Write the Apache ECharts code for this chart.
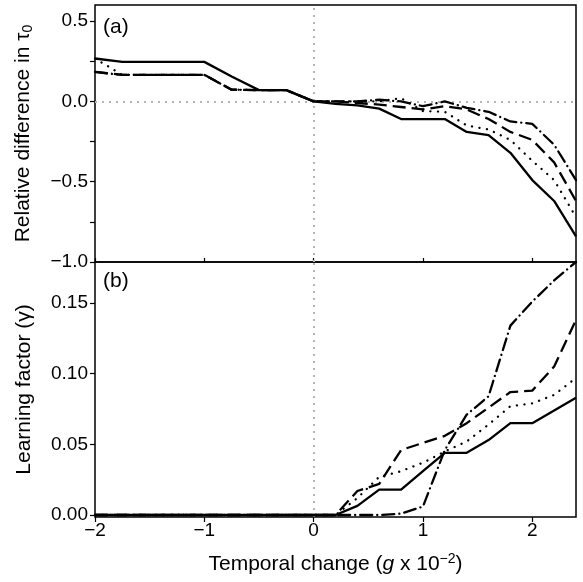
<!DOCTYPE html>
<html>
<head>
<meta charset="utf-8">
<script src="https://cdn.jsdelivr.net/npm/echarts@6/dist/echarts.min.js"></script>
<style>
html,body{margin:0;padding:0;background:#fff;}
#chart{width:583px;height:582px;}
</style>
</head>
<body>
<div id="chart"></div>
<script>
// x positions (g x 10^-2)
var xNeg = [-2, -1.75, -1.5, -1.25, -1, -0.75, -0.5, -0.25];
var xPos = [0, 0.2, 0.4, 0.6, 0.8, 1.0, 1.2, 1.4, 1.6, 1.8, 2.0, 2.2, 2.4];
var xVals = xNeg.concat(xPos);

// panel (a): relative difference in tau0
var tauSolid   = [0.267, 0.246, 0.246, 0.246, 0.246, 0.155, 0.07, 0.07, 0, -0.015, -0.025, -0.045, -0.11, -0.11, -0.11, -0.19, -0.21, -0.32, -0.49, -0.62, -0.84];
var tauDotted  = [0.267, 0.165, 0.165, 0.165, 0.165, 0.073, 0.07, 0.07, 0, 0, 0, 0, 0.02, -0.06, -0.065, -0.15, -0.175, -0.24, -0.37, -0.49, -0.72];
var tauDashed  = [0.183, 0.165, 0.165, 0.165, 0.165, 0.073, 0.07, 0.07, 0, 0, -0.01, -0.02, -0.035, -0.05, -0.03, -0.05, -0.11, -0.19, -0.24, -0.38, -0.62];
var tauDashDot = [0.183, 0.165, 0.165, 0.165, 0.165, 0.073, 0.07, 0.07, 0, 0, 0, 0.01, 0, -0.03, 0, -0.04, -0.065, -0.125, -0.14, -0.27, -0.49];

// panel (b): learning factor gamma
var gamSolid   = [0, 0, 0, 0, 0, 0, 0, 0, 0, 0, 0.0065, 0.018, 0.018, 0.031, 0.044, 0.044, 0.053, 0.065, 0.065, 0.074, 0.083];
var gamDotted  = [0, 0, 0, 0, 0, 0, 0, 0, 0, 0, 0.012, 0.027, 0.031, 0.037, 0.045, 0.052, 0.064, 0.077, 0.079, 0.085, 0.097];
var gamDashed  = [0, 0, 0, 0, 0, 0, 0, 0, 0, 0, 0.017, 0.022, 0.046, 0.051, 0.056, 0.065, 0.076, 0.087, 0.088, 0.105, 0.138];
var gamDashDot = [0, 0, 0, 0, 0, 0, 0, 0, 0, 0, 0, 0, 0.001, 0.006, 0.046, 0.071, 0.084, 0.134, 0.151, 0.166, 0.179];

var xTicks = [-2, -1, 0, 1, 2];
var tauTicks = [-1, -0.75, -0.5, -0.25, 0, 0.25, 0.5];
var tauLabels = [-1, -0.5, 0, 0.5];
var gamTicks = [0, 0.05, 0.1, 0.15];

var font = "'Liberation Sans', Arial, sans-serif";

function pairs(ys) {
    return xVals.map(function (x, i) { return [x, ys[i]]; });
}
function minus(s) { return s.replace('-', '\u2212'); }

var styles = [
    { type: 'solid', cap: 'butt' },
    { type: [0.1, 7.5], cap: 'round' },
    { type: [13, 6], cap: 'butt' },
    { type: [12, 5, 0.1, 5], cap: 'round' }
];

function makeSeries(ys, k, grid) {
    return {
        type: 'line',
        xAxisIndex: grid,
        yAxisIndex: grid,
        data: pairs(ys),
        showSymbol: false,
        symbol: 'none',
        animation: false,
        silent: true,
        z: 5,
        lineStyle: { color: '#000', width: 2.3, type: styles[k].type, cap: styles[k].cap }
    };
}

var refLine = {
    symbol: ['none', 'none'],
    silent: true,
    animation: false,
    label: { show: false },
    lineStyle: { color: '#b5b5b5', type: [2, 5], width: 2 }
};

var series = [
    makeSeries(tauSolid, 0, 0), makeSeries(tauDotted, 1, 0), makeSeries(tauDashed, 2, 0), makeSeries(tauDashDot, 3, 0),
    makeSeries(gamSolid, 0, 1), makeSeries(gamDotted, 1, 1), makeSeries(gamDashed, 2, 1), makeSeries(gamDashDot, 3, 1)
];
series.push({
    type: 'line', xAxisIndex: 0, yAxisIndex: 0, data: [], z: 1,
    markLine: Object.assign({ data: [{ xAxis: 0 }, { yAxis: 0 }] }, refLine)
});
series.push({
    type: 'line', xAxisIndex: 1, yAxisIndex: 1, data: [], z: 1,
    markLine: Object.assign({ data: [{ xAxis: 0 }] }, refLine)
});

var axisCommon = {
    axisLine: { show: false, onZero: false },
    splitLine: { show: false }
};

var myChart = echarts.init(document.getElementById('chart'));
var option = {
    backgroundColor: '#fff',
    textStyle: { fontFamily: font },
    grid: [
        { left: 95, right: 7, top: 5, height: 257, show: true, borderColor: '#000', borderWidth: 1.5 },
        { left: 95, right: 7, top: 262, height: 255, show: true, borderColor: '#000', borderWidth: 1.5 }
    ],
    xAxis: [
        Object.assign({
            type: 'value', gridIndex: 0, min: -2, max: 2.4,
            axisTick: { inside: true, length: 4, lineStyle: { color: '#000', width: 1.2 }, customValues: xTicks },
            axisLabel: { show: false }
        }, axisCommon),
        Object.assign({
            type: 'value', gridIndex: 1, min: -2, max: 2.4,
            axisTick: { length: 5, lineStyle: { color: '#000', width: 1.2 }, customValues: xTicks },
            axisLabel: {
                customValues: xTicks, color: '#000', fontSize: 19, fontFamily: font, margin: 4,
                formatter: function (v) { return minus(String(v)); }
            },
            name: 'Temporal change ({i|g} x 10{sup|\u22122})',
            nameLocation: 'middle',
            nameGap: 35,
            nameTextStyle: {
                color: '#000', fontSize: 21, fontFamily: font,
                rich: {
                    i: { fontSize: 21, fontStyle: 'italic', fontFamily: font, color: '#000' },
                    sup: { fontSize: 14, fontFamily: font, color: '#000', padding: [0, 0, 10, 0] }
                }
            }
        }, axisCommon)
    ],
    yAxis: [
        Object.assign({
            type: 'value', gridIndex: 0, min: -1, max: 0.6,
            axisTick: { length: 5, lineStyle: { color: '#000', width: 1.2 }, customValues: tauTicks },
            axisLabel: {
                customValues: tauLabels, color: '#000', fontSize: 19, fontFamily: font, margin: 7,
                formatter: function (v) { return minus(v.toFixed(1)); }
            },
            name: 'Relative difference in \u03c4{sub|0}',
            nameLocation: 'middle',
            nameGap: 60,
            nameTextStyle: {
                color: '#000', fontSize: 21, fontFamily: font,
                rich: {
                    sub: { fontSize: 14, fontFamily: font, color: '#000', padding: [10, 0, 0, 0] }
                }
            }
        }, axisCommon),
        Object.assign({
            type: 'value', gridIndex: 1, min: -0.0014, max: 0.179,
            axisTick: { length: 5, lineStyle: { color: '#000', width: 1.2 }, customValues: gamTicks },
            axisLabel: {
                customValues: gamTicks, color: '#000', fontSize: 19, fontFamily: font, margin: 7,
                formatter: function (v) { return v.toFixed(2); }
            },
            name: 'Learning factor (\u03b3)',
            nameLocation: 'middle',
            nameGap: 60,
            nameTextStyle: { color: '#000', fontSize: 21, fontFamily: font }
        }, axisCommon)
    ],
    graphic: [
        { type: 'text', left: 103, top: 17, style: { text: '(a)', fontSize: 21, fontFamily: font, fill: '#000' } },
        { type: 'text', left: 103, top: 271, style: { text: '(b)', fontSize: 21, fontFamily: font, fill: '#000' } }
    ],
    series: series
};
myChart.setOption(option);
</script>
</body>
</html>
